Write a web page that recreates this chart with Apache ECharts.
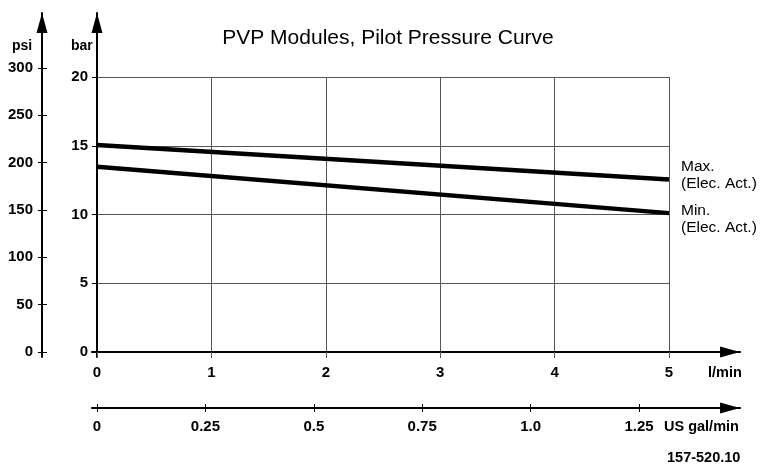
<!DOCTYPE html>
<html><head><meta charset="utf-8">
<script src="https://cdn.jsdelivr.net/npm/echarts@6/dist/echarts.min.js"></script>
<style>html,body{margin:0;padding:0;background:#fff}#c{width:761px;height:465px}</style>
</head><body><div id="c"></div>
<script>
// ---- data ----
const flowLmin = [0, 5];
const maxPressureBar = [15.05, 12.55];
const minPressureBar = [13.48, 10.1];
const barTicks = [0, 5, 10, 15, 20];
const lminTicks = [0, 1, 2, 3, 4, 5];
const psiTicks = [0, 50, 100, 150, 200, 250, 300];
const galTicks = [0, 0.25, 0.5, 0.75, 1.0, 1.25];
const galTickLabels = ['0', '0.25', '0.5', '0.75', '1.0', '1.25'];
const seriesNames = ['Max.\n(Elec. Act.)', 'Min.\n(Elec. Act.)'];

const FONT = 'Liberation Sans, Arial, sans-serif';
const lbl = {color:'#000', fontFamily:FONT, fontSize:15, fontWeight:'bold'};
const gridCol = '#555';
const arrow = {show:true, symbol:['none','triangle'], symbolSize:[11,20], symbolOffset:[0,-10], lineStyle:{color:'#000', width:2}};

const chart = echarts.init(document.getElementById('c'), null, {renderer:'canvas'});
const galLabelMap = {};
galTicks.forEach((v,i)=>galLabelMap[v]=galTickLabels[i]);

chart.setOption({
  animation:false,
  backgroundColor:'#fff',
  title:{text:'PVP Modules, Pilot Pressure Curve', left:383, textAlign:'center', top:23,
    textStyle:{fontFamily:FONT, fontSize:21, fontWeight:'normal', color:'#000'}},
  grid:[
    {left:97, width:572, top:77, height:275},           // plot
    {left:92, right:21, top:13, bottom:108},            // arrow axes
    {left:42, width:1, top:13, bottom:108},             // psi
    {left:92, right:21, top:406, height:2}              // gal
  ],
  xAxis:[
    {gridIndex:0, type:'value', min:0, max:5, interval:1,
      axisLine:{show:false}, axisTick:{show:true, length:6, lineStyle:{color:gridCol}},
      splitLine:{show:true, lineStyle:{color:gridCol, width:1}},
      axisLabel:{...lbl, margin:13}},
    {gridIndex:1, type:'value', min:-0.0437, max:5.62,
      axisLine:arrow, axisTick:{show:false}, axisLabel:{show:false}, splitLine:{show:false}},
    {gridIndex:2, type:'value', min:0, max:1, show:false},
    {gridIndex:3, type:'value', min:-0.01153, max:1.4829, position:'bottom',
      axisLine:{...arrow, onZero:false},
      axisTick:{show:true, length:4, customValues:galTicks, lineStyle:{color:'#000'}},
      axisLabel:{...lbl, margin:11, customValues:galTicks, formatter:v=>galLabelMap[v] ?? ''},
      splitLine:{show:false}},
    {gridIndex:3, type:'value', min:-0.01153, max:1.4829, position:'bottom',
      axisLine:{show:false, onZero:false},
      axisTick:{show:true, inside:true, length:4, customValues:galTicks, lineStyle:{color:'#000'}},
      axisLabel:{show:false}, splitLine:{show:false}}
  ],
  yAxis:[
    {gridIndex:0, type:'value', min:0, max:20, interval:5,
      axisLine:{show:false}, axisTick:{show:true, length:5, lineStyle:{color:'#000'}},
      splitLine:{show:true, lineStyle:{color:gridCol, width:1}},
      axisLabel:{...lbl, margin:9}},
    {gridIndex:1, type:'value', min:-0.364, max:24.65,
      axisLine:arrow, axisTick:{show:false}, axisLabel:{show:false}, splitLine:{show:false}},
    {gridIndex:2, type:'value', min:-5.28, max:358.1, position:'left',
      axisLine:{...arrow, onZero:false},
      axisTick:{show:true, length:4, customValues:psiTicks, lineStyle:{color:'#000'}},
      axisLabel:{...lbl, margin:9, customValues:psiTicks},
      splitLine:{show:false}},
    {gridIndex:2, type:'value', min:-5.28, max:358.1, position:'left',
      axisLine:{show:false, onZero:false},
      axisTick:{show:true, inside:true, length:5, customValues:psiTicks, lineStyle:{color:'#000'}},
      axisLabel:{show:false}, splitLine:{show:false}},
    {gridIndex:3, type:'value', min:0, max:1, show:false}
  ],
  series:[
    {type:'line', xAxisIndex:0, yAxisIndex:0, name:seriesNames[0],
      data:flowLmin.map((x,i)=>[x, maxPressureBar[i]]), symbol:'none',
      lineStyle:{color:'#000', width:4.5},
      endLabel:{show:true, formatter:seriesNames[0], offset:[4,-4], align:'left',
        color:'#000', fontFamily:FONT, fontSize:15.5, lineHeight:17}},
    {type:'line', xAxisIndex:0, yAxisIndex:0, name:seriesNames[1],
      data:flowLmin.map((x,i)=>[x, minPressureBar[i]]), symbol:'none',
      lineStyle:{color:'#000', width:4.5},
      endLabel:{show:true, formatter:seriesNames[1], offset:[4,6], align:'left',
        color:'#000', fontFamily:FONT, fontSize:15.5, lineHeight:17}}
  ],
  graphic:[
    {type:'text', left:12, top:39, style:{text:'psi', ...lbl, fontSize:14, fill:'#000'}},
    {type:'text', left:71, top:39, style:{text:'bar', ...lbl, fontSize:14, fill:'#000'}},
    {type:'text', left:708, top:365, style:{text:'l/min', ...lbl, fontSize:14.5, fill:'#000'}},
    {type:'text', left:664, top:419, style:{text:'US gal/min', ...lbl, fontSize:14.5, fill:'#000'}},
    {type:'text', left:667, top:450, style:{text:'157-520.10', ...lbl, fontSize:14.5, fill:'#000'}}
  ]
});
</script></body></html>
